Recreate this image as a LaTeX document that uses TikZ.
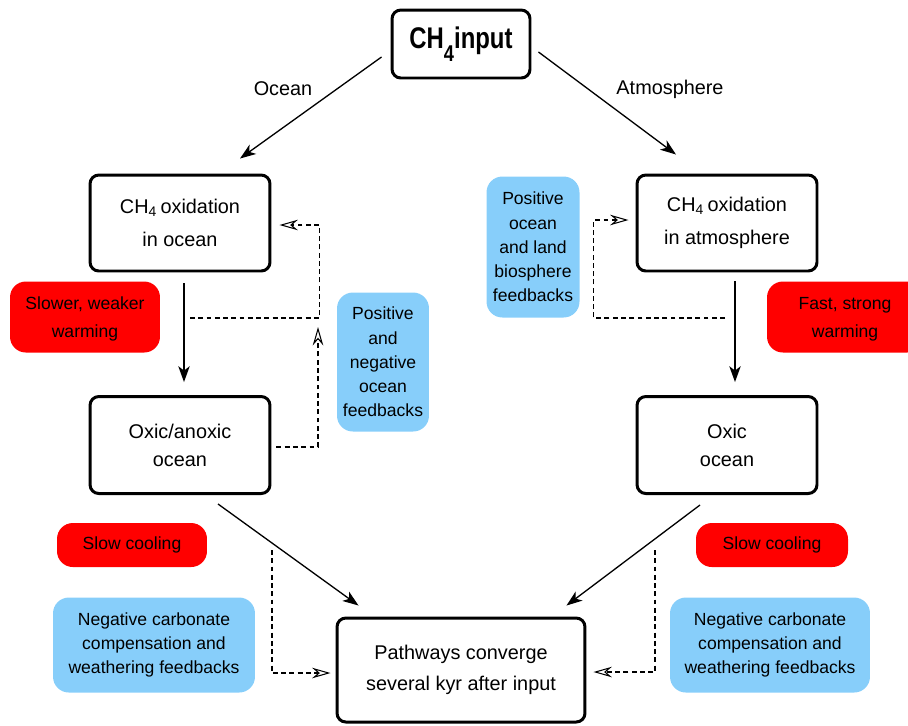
\documentclass[tikz,border=0pt]{standalone}
\usepackage{fontspec}
\setmainfont{Liberation Sans}
\newfontfamily\titlefont[FakeStretch=0.8]{Liberation Sans}
\usetikzlibrary{arrows.meta,calc}
\definecolor{warmred}{RGB}{255,0,0}
\definecolor{fbblue}{RGB}{135,206,250}

\begin{document}
\begin{tikzpicture}[
  x=0.02cm, y=-0.02cm,
  box/.style={draw, line width=1.7pt, rounded corners=5pt, fill=white, align=center, inner sep=0pt, font=\fontsize{11.3}{16}\selectfont},
  red box/.style={fill=warmred, rounded corners=9pt, align=center, inner sep=0pt, font=\fontsize{10}{15.9}\selectfont},
  blue box/.style={fill=fbblue, rounded corners=9pt, align=center, inner sep=0pt, font=\fontsize{10}{13.8}\selectfont},
  label text/.style={font=\fontsize{11.3}{13}\selectfont},
  solid edge/.style={draw, -{Stealth[length=9pt, width=6.5pt, inset=2.5pt]}, line width=0.75pt},
  dashed edge/.style={draw, -{Stealth[open, length=10.5pt, width=6pt, inset=3.5pt]}, line width=0.6pt, dash pattern=on 2.8pt off 1.9pt}
]
\useasboundingbox (0,0) rectangle (908,725);
\clip (0,0) rectangle (908,725);
% Define the nodes
\node[box, minimum width=2.76cm, minimum height=1.36cm] (A) at (461,44) {\titlefont\bfseries\fontsize{17}{17}\selectfont CH\raisebox{-0.45em}{\fontsize{13}{13}\selectfont 4}input};
\node[box, minimum width=3.6cm, minimum height=1.92cm] (B) at (180,223) {CH\textsubscript{4}\,oxidation\\[3pt]in ocean};
\node[box, minimum width=3.6cm, minimum height=1.92cm] (C) at (727,223) {CH\textsubscript{4}\,oxidation\\[3pt]in atmosphere};
\node[box, minimum width=3.6cm, minimum height=1.94cm] (D) at (180,445) {Oxic/anoxic\\ocean};
\node[box, minimum width=3.6cm, minimum height=1.94cm] (E) at (727,445) {Oxic\\ocean};
\node[box, minimum width=4.96cm, minimum height=2.08cm] (F) at (461,670) {Pathways converge\\[2pt]several kyr after input};
\node[red box, minimum width=3cm, minimum height=1.42cm, text depth=-3pt] (G) at (85,317) {Slower, weaker\\warming};
\node[red box, minimum width=3.12cm, minimum height=1.42cm, text depth=-3pt] (H) at (845,317) {Fast, strong\\warming};
\node[red box, minimum width=3cm, minimum height=0.88cm] (I) at (132,545) {Slow cooling};
\node[red box, minimum width=3.04cm, minimum height=0.88cm] (J) at (772,545) {Slow cooling};
\node[blue box, minimum width=1.84cm, minimum height=2.78cm] (K) at (383,362) {Positive\\and\\negative\\ocean\\feedbacks};
\node[blue box, minimum width=1.86cm, minimum height=2.82cm] (L) at (533,247) {Positive\\ocean\\and land\\biosphere\\feedbacks};
\node[blue box, minimum width=4.04cm, minimum height=1.9cm] (M) at (154,645) {Negative carbonate\\compensation and\\weathering feedbacks};
\node[blue box, minimum width=4cm, minimum height=1.9cm] (N) at (770,645) {Negative carbonate\\compensation and\\weathering feedbacks};
\node[label text] (O) at (283,89) {Ocean};
\node[label text] (P) at (670,89) {Atmosphere};
\coordinate (jl) at (190,318);
\coordinate (ml) at (318,327);
\coordinate (jr) at (725,318);
\coordinate (bl) at (272,550);
\coordinate (br) at (655,550);
% Define the edges
\path[solid edge] ($(A.west)+(-9,13)$) -- ($(B.north)+(60,-15)$);
\path[solid edge] ($(A.east)+(7,8)$) -- ($(C.north)+(-51,-19)$);
\path[solid edge] ($(B.south)+(4,11)$) -- ($(D.north)+(4,-13)$);
\path[solid edge] ($(C.south)+(8,9)$) -- ($(E.north)+(8,-13)$);
\path[solid edge] ($(D.south)+(38,9)$) -- ($(F.north west)+(23,-11)$);
\path[solid edge] ($(E.south)+(-27,10)$) -- ($(F.north east)+(-20,-11)$);
\path[dashed edge] (jl) -| ($(B.east)+(48,2)$) -- ($(B.east)+(8,2)$);
\path[dashed edge] ($(D.east)+(5,2)$) -| (ml);
\path[dashed edge] (jr) -| ($(C.west)+(-42,-3)$) -- ($(C.west)+(-7,-3)$);
\path[dashed edge] (bl) |- ($(F.west)+(-5,3)$);
\path[dashed edge] (br) |- ($(F.east)+(7,2)$);
\end{tikzpicture}
\end{document}
